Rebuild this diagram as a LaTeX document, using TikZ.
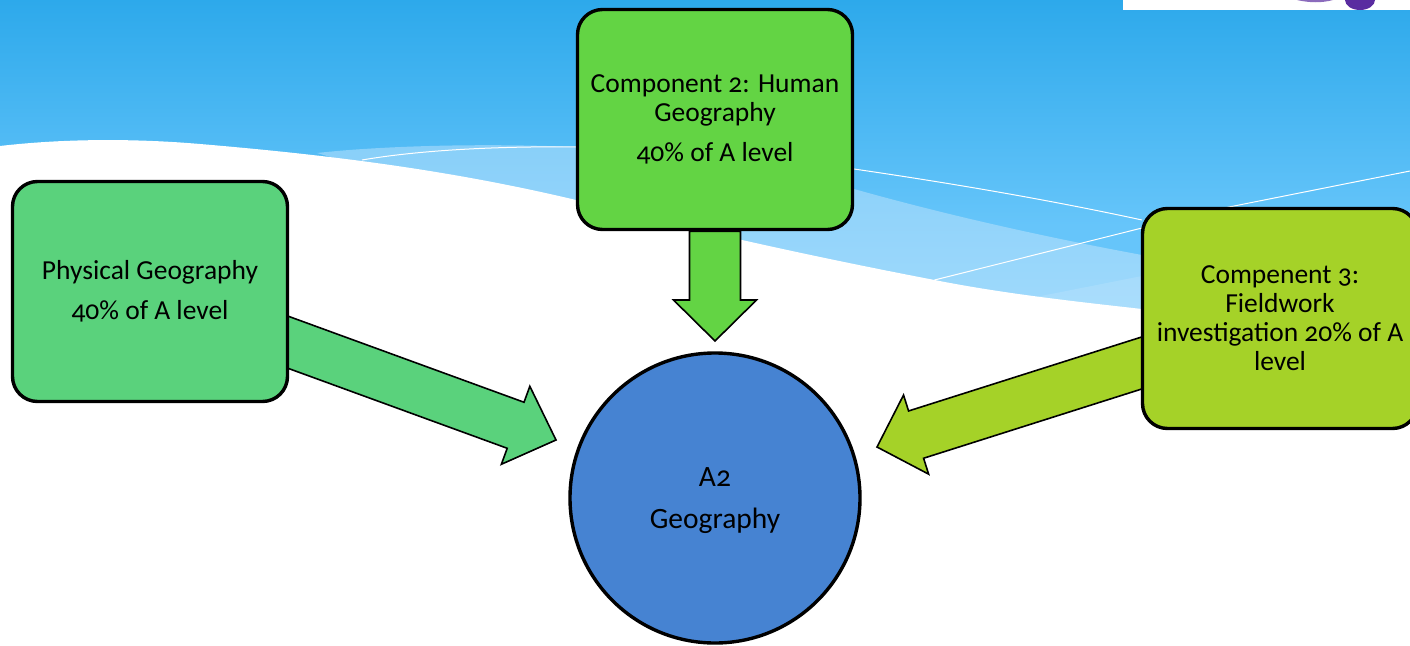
\documentclass[tikz,border=0pt]{standalone}
\usepackage{fontspec}
\setmainfont[Numbers=OldStyle]{Carlito}
\usetikzlibrary{calc,backgrounds}
\definecolor{skytop}{HTML}{2DA9EB}
\definecolor{skylow}{HTML}{66C5FA}
\definecolor{bandtop}{HTML}{88CFF9}
\definecolor{bandlow}{HTML}{A0DAFC}
\definecolor{physfill}{HTML}{5AD27C}
\definecolor{humanfill}{HTML}{63D444}
\definecolor{fieldfill}{HTML}{A5D228}
\definecolor{circfill}{HTML}{4683D2}
\definecolor{logopurple}{HTML}{5A2CA0}
\tikzset{
  x=1pt,y=-1pt,
  boxnode/.style={draw=black,line width=3.4pt,rounded corners=25pt,minimum width=275pt,minimum height=220pt,align=center,font=\fontsize{27.5}{29}\selectfont,inner sep=0pt},
  skyline/.style={draw=white,line width=1pt},
  blockline/.style={draw=black,line width=1.6pt,line join=miter}
}
% start, tip, colour, half shaft, head length
\newcommand{\blockarrow}[5]{%
  \coordinate (hb) at ($(#2)!#5pt!(#1)$);
  \draw[blockline,fill=#3]
    ($(#1)!#4pt!90:(#2)$) --
    ($(hb)!#4pt!90:(#2)$) --
    ($(hb)!41.5pt!90:(#2)$) --
    (#2) --
    ($(hb)!41.5pt!-90:(#2)$) --
    ($(hb)!#4pt!-90:(#2)$) --
    ($(#1)!#4pt!-90:(#2)$) -- cycle;
}
\begin{document}
\begin{tikzpicture}
\useasboundingbox (0,0) rectangle (1410,645);
\clip (0,0) rectangle (1410,645);
\node[boxnode,fill=physfill] (phys) at (150,291.5) {Physical Geography\\[11pt]40\% of A level};
\node[boxnode,fill=humanfill] (human) at (715,119.5) {Component 2:  Human\\Geography\\[11pt]40\% of A level};
\node[boxnode,fill=fieldfill] (field) at (1280,318.5) {Compenent 3:\\Fieldwork\\investigation 20\% of A\\level};
\node[circle,draw=black,line width=3.4pt,fill=circfill,minimum size=290pt,align=center,inner sep=0pt,font=\fontsize{29.5}{31}\selectfont] (circ) at (715,498) {\rule{0pt}{25pt}A2\\[11pt]Geography};
\coordinate (tipP) at (556,440);
\coordinate (tipH) at (715,341);
\coordinate (tipF) at (877,447);
\coordinate (startP) at (260,332);
\coordinate (startF) at (1170,354);
\begin{pgfonlayer}{background}
\shade[top color=skytop,bottom color=skylow] (0,0) rectangle (1410,225);
\fill[skylow] (0,225) rectangle (1410,330);
\fill[white] (1123,0) rectangle (1410,10);
\fill[logopurple] (1345,0) arc[start angle=180,end angle=0,x radius=15pt,y radius=-10pt] -- cycle;
\fill[logopurple!70] (1297,0) .. controls (1310,3) and (1322,3) .. (1333,0) -- cycle;
% light band
\begin{scope}
\clip (317,153) .. controls (380,146) and (480,143) .. (576,147)
  .. controls (680,152) and (790,170) .. (854,189)
  .. controls (950,216) and (1050,238) .. (1142,255)
  -- (1410,300) -- (1410,340) -- (1142,340) -- (900,300) -- (576,230) -- cycle;
\shade[top color=bandtop,bottom color=bandlow] (300,140) rectangle (1410,320);
\end{scope}
\fill[white,opacity=.12] (1036,297) -- (1142,276) -- (1142,310) -- cycle;
% white ground
\fill[white] (0,146) .. controls (60,139) and (130,138) .. (200,144)
  .. controls (330,155) and (450,170) .. (576,200)
  .. controls (700,232) and (820,258) .. (934.5,280)
  .. controls (1000,293) and (1070,301) .. (1142,309)
  -- (1410,330) -- (1410,645) -- (0,645) -- cycle;
\draw[skyline] (362,160) .. controls (420,150) and (500,146) .. (576,147)
  .. controls (680,148) and (780,157) .. (854,169) .. controls (950,183) and (1050,200) .. (1142,220);
\draw[skyline] (934.5,280) -- (1142,228) -- (1229,207) -- (1410,171);
\blockarrow{startP}{tipP}{physfill}{24.5}{43}
\blockarrow{human.south}{tipH}{humanfill}{25.5}{41}
\blockarrow{startF}{tipF}{fieldfill}{24.8}{41}
\end{pgfonlayer}
\end{tikzpicture}
\end{document}
